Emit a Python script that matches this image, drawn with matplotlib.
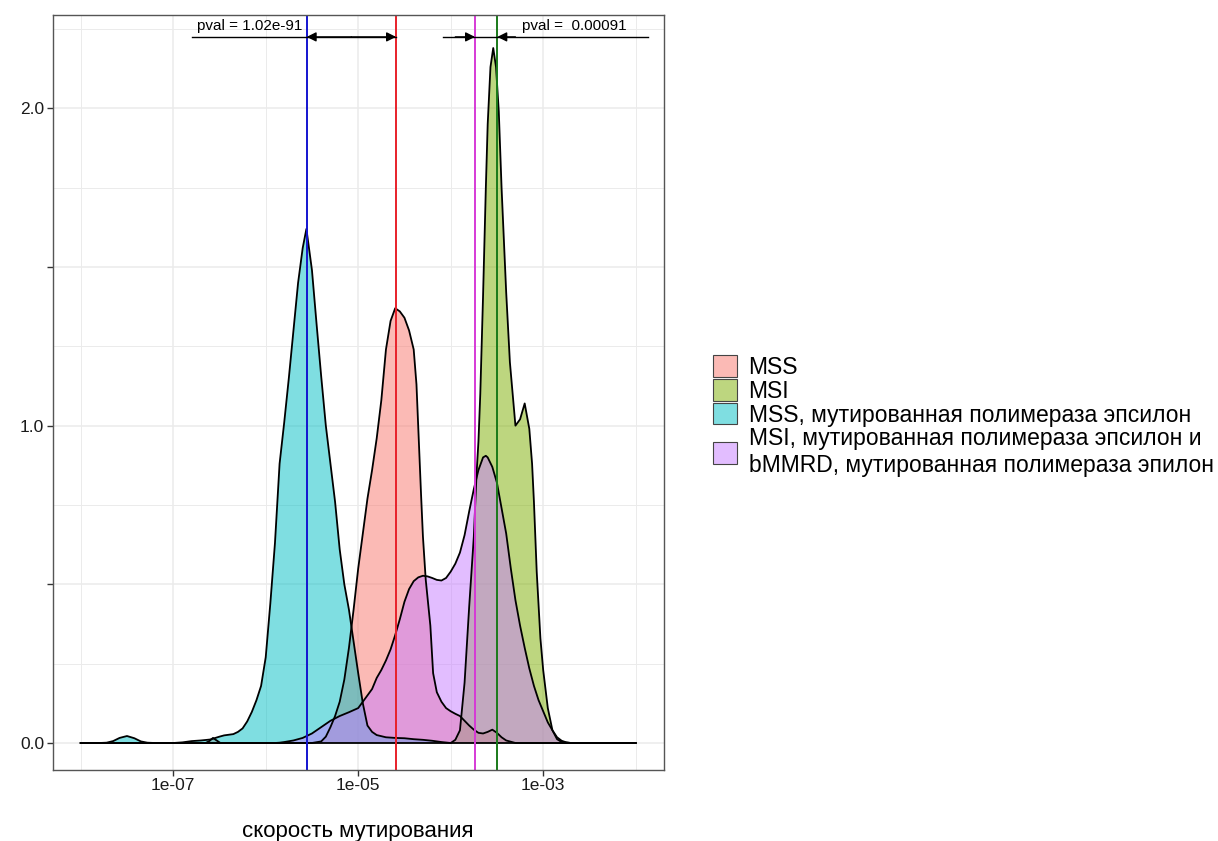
import numpy as np
import matplotlib
matplotlib.use("Agg")
import matplotlib.pyplot as plt
from matplotlib.patches import Patch
from matplotlib.colors import to_rgba
from matplotlib.ticker import NullFormatter

plt.rcParams['font.family'] = ['Liberation Sans', 'DejaVu Sans']

# density curves, x given as log10(mutation rate)
mss_lg = [-8.0, -6.65, -6.61, -6.57, -6.53, -6.49, -5.5, -5.4, -5.35, -5.3, -5.25, -5.2,
          -5.15, -5.1, -5.05, -5.0, -4.95, -4.9, -4.85, -4.8, -4.75, -4.7, -4.65, -4.6,
          -4.55, -4.5, -4.45, -4.4, -4.37, -4.35, -4.32, -4.3, -4.27, -4.22, -4.19, -4.15,
          -4.1, -4.05, -4.0, -3.95, -3.9, -3.85, -3.8, -3.75, -3.7, -3.65, -3.6, -3.55,
          -3.5, -3.45, -3.4, -3.3, -2.0]
mss_d = [0, 0, 0.006, 0.016, 0.008, 0, 0, 0.005, 0.02, 0.05, 0.085, 0.13,
         0.2, 0.3, 0.42, 0.55, 0.66, 0.77, 0.86, 0.96, 1.08, 1.24, 1.33, 1.37,
         1.36, 1.34, 1.30, 1.24, 1.13, 0.99, 0.78, 0.65, 0.515, 0.37, 0.22, 0.16,
         0.13, 0.11, 0.1, 0.092, 0.085, 0.07, 0.055, 0.042, 0.032, 0.03, 0.035, 0.042,
         0.032, 0.018, 0.008, 0, 0]

msi_lg = [-8.0, -4.0, -3.95, -3.9, -3.85, -3.8, -3.75, -3.72, -3.7, -3.68, -3.65, -3.62,
          -3.6, -3.57, -3.54, -3.51, -3.48, -3.45, -3.4, -3.36, -3.3, -3.25, -3.2, -3.15,
          -3.12, -3.1, -3.07, -3.03, -3.0, -2.95, -2.9, -2.85, -2.8, -2.7, -2.0]
msi_d = [0, 0, 0.01, 0.04, 0.19, 0.43, 0.65, 0.85, 0.95, 1.1, 1.41, 1.75,
         1.95, 2.13, 2.19, 2.13, 1.99, 1.75, 1.42, 1.2, 1.0, 1.02, 1.07, 0.99,
         0.88, 0.76, 0.54, 0.33, 0.23, 0.11, 0.04, 0.012, 0.003, 0, 0]

mssp_lg = [-8.0, -7.8, -7.72, -7.65, -7.58, -7.5, -7.42, -7.35, -7.28, -7.2, -7.0, -6.9,
           -6.8, -6.7, -6.6, -6.5, -6.45, -6.4, -6.35, -6.3, -6.25, -6.2, -6.15, -6.1,
           -6.05, -6.0, -5.95, -5.9, -5.85, -5.8, -5.75, -5.7, -5.65, -5.6, -5.56, -5.5,
           -5.45, -5.4, -5.35, -5.3, -5.25, -5.2, -5.15, -5.1, -5.05, -5.0, -4.95, -4.9,
           -4.85, -4.8, -4.7, -4.6, -4.5, -4.4, -4.3, -4.2, -4.1, -4.0, -2.0]
mssp_d = [0, 0, 0.001, 0.006, 0.016, 0.022, 0.015, 0.005, 0.001, 0, 0, 0.002,
          0.006, 0.008, 0.011, 0.02, 0.024, 0.026, 0.028, 0.035, 0.046, 0.068, 0.098, 0.135,
          0.18, 0.27, 0.44, 0.63, 0.88, 1.01, 1.15, 1.30, 1.45, 1.56, 1.62, 1.49,
          1.32, 1.155, 1.0, 0.88, 0.76, 0.61, 0.5, 0.42, 0.32, 0.22, 0.125, 0.055,
          0.035, 0.025, 0.018, 0.016, 0.015, 0.012, 0.01, 0.007, 0.003, 0, 0]

msip_lg = [-8.0, -5.9, -5.85, -5.8, -5.7, -5.6, -5.5, -5.4, -5.3, -5.2, -5.1, -5.0,
           -4.95, -4.9, -4.85, -4.8, -4.75, -4.7, -4.65, -4.6, -4.55, -4.5, -4.45, -4.4,
           -4.35, -4.3, -4.25, -4.2, -4.15, -4.1, -4.05, -4.0, -3.95, -3.9, -3.85, -3.8,
           -3.75, -3.7, -3.65, -3.62, -3.6, -3.55, -3.5, -3.45, -3.4, -3.35, -3.3, -3.25,
           -3.2, -3.15, -3.1, -3.05, -3.0, -2.95, -2.9, -2.85, -2.8, -2.75, -2.7, -2.0]
msip_d = [0, 0, 0.001, 0.003, 0.008, 0.016, 0.03, 0.05, 0.07, 0.085, 0.097, 0.11,
          0.13, 0.15, 0.17, 0.205, 0.23, 0.26, 0.295, 0.34, 0.39, 0.445, 0.485, 0.51,
          0.522, 0.527, 0.525, 0.52, 0.514, 0.512, 0.52, 0.54, 0.565, 0.6, 0.655, 0.73,
          0.8, 0.86, 0.9, 0.905, 0.9, 0.87, 0.82, 0.74, 0.66, 0.55, 0.45, 0.37,
          0.3, 0.235, 0.18, 0.135, 0.1, 0.065, 0.04, 0.018, 0.007, 0.002, 0, 0]

groups = ['MSS', 'MSI', 'MSS, мутированная полимераза эпсилон',
          'MSI, мутированная полимераза эпсилон и\nbMMRD, мутированная полимераза эпилон']
fills = ['#F8766D', '#7CAE00', '#00BFC4', '#C77CFF']

# group medians (log10) and their line colours
median_lg = [-4.591, -3.496, -5.557, -3.737]
median_col = ['#E8202A', '#1A7A1A', '#1414D0', '#D63AD6']

pval_left = 'pval = 1.02e-91'
pval_right = 'pval =  0.00091'

fig = plt.figure(figsize=(12.18, 8.41), dpi=100)
ax = fig.add_axes([0.04327, 0.08442, 0.50164, 0.89774])

curves = [(mss_lg, mss_d), (msi_lg, msi_d), (mssp_lg, mssp_d), (msip_lg, msip_d)]
for (lg, d), c in zip(curves, fills):
    x = 10.0 ** np.array(lg)
    ax.fill_between(x, d, 0, facecolor=c, alpha=0.5, lw=0)
    ax.plot(x, d, color='black', lw=1.3, solid_joinstyle='round')

for v, c in zip(median_lg, median_col):
    ax.axvline(10.0 ** v, color=c, lw=1.4)

# p-value brackets
ya = 2.225
arr = dict(arrowstyle='-|>', color='black', lw=1.0, mutation_scale=14, shrinkA=0, shrinkB=0)
ax.plot([10 ** -6.80, 10 ** median_lg[0]], [ya, ya], color='black', lw=1.0)
mid = 10 ** ((median_lg[2] + median_lg[0]) / 2)
ax.annotate('', xy=(10 ** median_lg[2], ya), xytext=(mid, ya), arrowprops=arr)
ax.annotate('', xy=(10 ** median_lg[0], ya), xytext=(mid, ya), arrowprops=arr)
ax.plot([10 ** -4.08, 10 ** -1.864], [ya, ya], color='black', lw=1.0)
ax.annotate('', xy=(10 ** median_lg[3], ya), xytext=(10 ** -3.95, ya), arrowprops=arr)
ax.annotate('', xy=(10 ** median_lg[1], ya), xytext=(10 ** -3.3, ya), arrowprops=arr)
ax.text(10 ** (median_lg[2] - 0.05), 2.258, pval_left, ha='right', va='center', fontsize=11)
ax.text(10 ** -3.229, 2.258, pval_right, ha='left', va='center', fontsize=11)

ax.set_xscale('log')
ax.set_xlim(10 ** -8.303, 10 ** -1.697)
ax.set_ylim(-0.0851, 2.294)
ax.set_xticks([1e-7, 1e-5, 1e-3])
ax.set_xticklabels(['1e-07', '1e-05', '1e-03'])
ax.set_xticks([1e-8, 1e-6, 1e-4, 1e-2], minor=True)
ax.xaxis.set_minor_formatter(NullFormatter())
ax.set_yticks([0, 0.5, 1.0, 1.5, 2.0])
ax.set_yticklabels(['0.0', '', '1.0', '', '2.0'])
ax.set_yticks([0.25, 0.75, 1.25, 1.75, 2.25], minor=True)
ax.yaxis.set_minor_formatter(NullFormatter())
ax.tick_params(which='major', length=4, width=1.0, color='#333333',
               labelsize=12.5, labelcolor='#1a1a1a', pad=2)
ax.tick_params(which='minor', length=0)
ax.set_axisbelow(True)
ax.grid(which='major', color='#EBEBEB', lw=1.1)
ax.grid(which='minor', color='#EBEBEB', lw=0.7)
for s in ax.spines.values():
    s.set_color('#555555')
    s.set_linewidth(1.0)
ax.set_xlabel('скорость мутирования', fontsize=16, labelpad=20)

handles = [Patch(facecolor=to_rgba(c, 0.5), edgecolor='#444444', lw=0.8) for c in fills]
fig.legend(handles, groups, loc='center left', bbox_to_anchor=(713 / 1218, 1 - 416 / 841),
           frameon=False, fontsize=16.5, handlelength=1.05, handleheight=1.05,
           handletextpad=0.5, labelspacing=0.02, borderpad=0, borderaxespad=0)

fig.savefig('out.png', dpi=100)
